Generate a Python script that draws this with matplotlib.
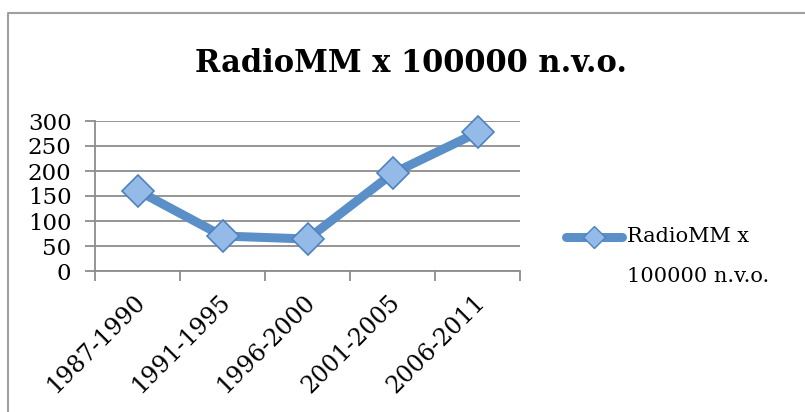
import matplotlib.pyplot as plt
import numpy as np
from matplotlib.lines import Line2D
from matplotlib.transforms import ScaledTranslation

periodos = ["1987-1990", "1991-1995", "1996-2000", "2001-2005", "2006-2011"]
valores = [161, 70, 64, 195, 277]
serie = "RadioMM x 100000 n.v.o."

azul = "#5b8fc8"
gris = "#8c8c8c"

plt.rcParams['font.family'] = ['DejaVu Serif']

fig = plt.figure(figsize=(8.05, 4.12), dpi=100)
ax = fig.add_axes([95/805, 1-271/412, 425/805, 150/412])

x = np.arange(len(periodos))
ax.plot(x, valores, color=azul, lw=6.5, solid_capstyle='round', solid_joinstyle='round',
        marker='D', ms=16, mfc="#94bbe8", mec="#4f81bd", mew=1.2, zorder=3, clip_on=False)

ax.set_xlim(-0.5, len(periodos)-0.5)
ax.set_ylim(0, 300)
ax.set_yticks(np.arange(0, 301, 50))
ax.yaxis.grid(True, color=gris, lw=1.3)
ax.set_axisbelow(True)

ax.set_xticks(x)
ax.set_xticklabels(periodos, rotation=45, ha='right', va='top', rotation_mode='anchor', fontsize=17)
ax.set_xticks(np.arange(-0.5, len(periodos)), minor=True)
ax.tick_params(axis='x', which='major', length=0, pad=14)
ax.tick_params(axis='x', which='minor', length=7, width=1.3, color=gris, direction='out')
ax.tick_params(axis='y', length=7, width=1.3, color=gris, labelsize=16.5, pad=10)
desplazar = ScaledTranslation(-4/100, 0, fig.dpi_scale_trans)
for lbl in ax.get_xticklabels():
    lbl.set_transform(lbl.get_transform() + desplazar)

for s in ['top', 'right']:
    ax.spines[s].set_visible(False)
for s in ['left', 'bottom']:
    ax.spines[s].set_color(gris)
    ax.spines[s].set_linewidth(1.3)

fig.text(411/805, 1-64/412, serie, ha='center', va='center', fontsize=22, fontweight='bold')

# leyenda
fig.add_artist(Line2D([566/805, 622/805], [1-237/412]*2, color=azul, lw=6.5, solid_capstyle='round'))
fig.add_artist(Line2D([594/805], [1-237/412], marker='D', ms=11, mfc="#94bbe8", mec="#4f81bd", mew=1, color=azul))
fig.text(627/805, 1-237/412, "RadioMM x", ha='left', va='center', fontsize=15)
fig.text(627/805, 1-276/412, "100000 n.v.o.", ha='left', va='center', fontsize=15)

# marco
fig.add_artist(Line2D([8/805, 8/805, 1], [0, 1-13/412, 1-13/412], color="#a0a0a0", lw=1.5))

fig.savefig("out.png", dpi=100)
